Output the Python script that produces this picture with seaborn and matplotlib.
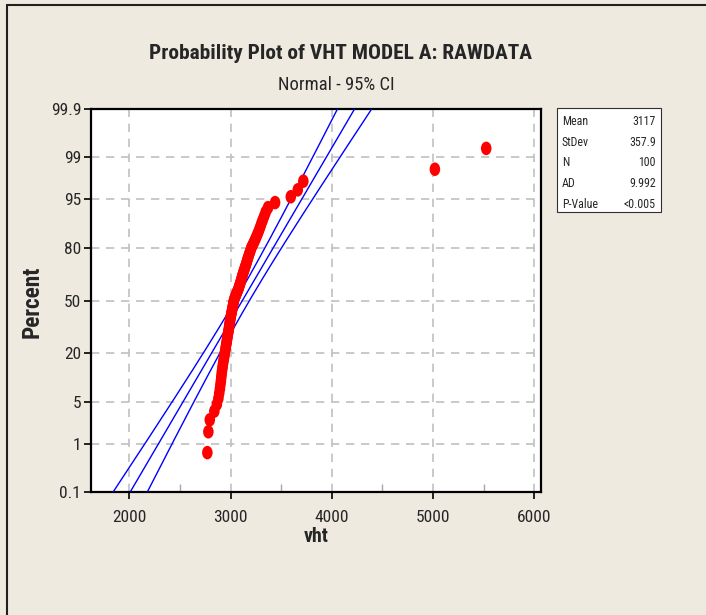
import numpy as np
import pandas as pd
import matplotlib
matplotlib.use("Agg")
import matplotlib.pyplot as plt
import seaborn as sns
from matplotlib import font_manager
from matplotlib.font_manager import FontProperties
from matplotlib.path import Path
from matplotlib.transforms import Affine2D
from matplotlib.patches import Rectangle
from matplotlib.lines import Line2D
from matplotlib.ticker import FixedLocator
from statistics import NormalDist

# ---------------- data ----------------
vht = [2771, 2781, 2795, 2840, 2865, 2880, 2888, 2895, 2900, 2905,
       2908, 2912, 2915, 2920, 2923, 2927, 2931, 2935, 2939, 2943,
       2946, 2950, 2953, 2957, 2960, 2963, 2966, 2969, 2972, 2975,
       2978, 2981, 2984, 2986, 2989, 2991, 2994, 2996, 2999, 3002,
       3005, 3008, 3011, 3014, 3017, 3020, 3023, 3026, 3029, 3032,
       3035, 3041, 3047, 3053, 3059, 3065, 3072, 3078, 3083, 3088,
       3093, 3098, 3102, 3107, 3112, 3116, 3121, 3126, 3132, 3138,
       3143, 3149, 3155, 3161, 3166, 3172, 3178, 3185, 3192, 3199,
       3206, 3217, 3228, 3239, 3250, 3261, 3272, 3283, 3294, 3305,
       3318, 3332, 3347, 3370, 3440, 3595, 3664, 3719, 5018, 5525]
pct_ticks = [0.1, 1, 5, 20, 50, 80, 95, 99, 99.9]
pct_labels = ["0.1", "1", "5", "20", "50", "80", "95", "99", "99.9"]
x_ticks = [2000, 3000, 4000, 5000, 6000]
x_minor = [2500, 3500, 4500, 5500]
stat_names = ["Mean", "StDev", "N", "AD", "P-Value"]
stat_values = ["3117", "357.9", "100", "9.992", "<0.005"]
fit_mean = 3117
fit_sd = 357.9
title = "Probability Plot of VHT MODEL A: RAWDATA"
subtitle = "Normal - 95% CI"

# ---------------- derived probability-plot coordinates ----------------
nd = NormalDist()
n = len(vht)
xs = sorted(vht)
plot_pct = [(i - 0.3) / (n + 0.4) for i in range(1, n + 1)]
zs = [nd.inv_cdf(p) for p in plot_pct]
df = pd.DataFrame({"vht": xs, "z": zs})

zmin, zmax = nd.inv_cdf(0.001), nd.inv_cdf(0.999)
zz = np.linspace(zmin, zmax, 300)
x_fit = fit_mean + fit_sd * zz
half = 1.96 * fit_sd * np.sqrt(1.0 / n + zz ** 2 / (2.0 * n))

# ---------------- fonts: prefer a narrow sans face ----------------
sns.set_style("white")
plt.rcParams["font.family"] = ["Liberation Sans", "DejaVu Sans"]


def _num(v, table, default):
    if isinstance(v, str):
        return table.get(v, default)
    return v


pref = ["Liberation Sans Narrow", "Arial Narrow", "Roboto Condensed",
        "Open Sans Condensed", "Noto Sans", "Open Sans", "Roboto",
        "DejaVu Sans"]
cond = []
for f in font_manager.fontManager.ttflist:
    st = _num(f.stretch, font_manager.stretch_dict, 500)
    wt = _num(f.weight, font_manager.weight_dict, 400)
    low = (f.name + " " + f.fname).lower()
    if f.style == "normal" and (st < 500 or "narrow" in low or "condensed" in low):
        cond.append((f, wt))


def pick(lo, hi, target):
    best = None
    for rank, fam in enumerate(pref + ["*"]):
        for f, wt in cond:
            if (fam == "*" or f.name == fam or f.name.startswith(fam)) and lo <= wt <= hi:
                key = (rank, abs(wt - target))
                if best is None or key < best[0]:
                    best = (key, f.fname)
        if best is not None:
            break
    return best[1] if best else None


reg_file = pick(300, 500, 400)
bold_file = pick(550, 800, 700)


def fp(bold=False, size=10):
    fn = bold_file if bold else reg_file
    if fn:
        return FontProperties(fname=fn, size=size)
    return FontProperties(family=["Liberation Sans", "DejaVu Sans"],
                          weight="bold" if bold else "normal", size=size)


# ---------------- figure ----------------
W, H = 706, 615
BG = "#EEEAE0"
fig = plt.figure(figsize=(W / 100, H / 100), dpi=100, facecolor=BG)
renderer = fig.canvas.get_renderer()


def fx(px):
    return px / W


def fy(py):
    return 1 - py / H


def fit_width(t, target, vertical=False):
    bb = t.get_window_extent(renderer=renderer)
    cur = bb.height if vertical else bb.width
    t.set_fontsize(t.get_fontsize() * target / cur)


ax = fig.add_axes([fx(91), fy(491.7), (541 - 91) / W, (491.7 - 109.3) / H])
ax.set_facecolor("white")

for xv in (x_fit - half, x_fit, x_fit + half):
    sns.lineplot(x=xv, y=zz, sort=False, estimator=None, color="#0000FF",
                 lw=1.0, ax=ax, zorder=3)

ellipse = Path.unit_circle().transformed(Affine2D().scale(0.78, 1.0))
sns.scatterplot(data=df, x="vht", y="z", marker=ellipse, s=95, color="#FF0000",
                edgecolor="none", linewidth=0, ax=ax, zorder=4)

ax.set_xlim(1622, 6066)
ax.set_ylim(zmin, zmax)
ax.set_xticks(x_ticks)
ax.set_xticklabels([str(t) for t in x_ticks])
ax.xaxis.set_minor_locator(FixedLocator(x_minor))
ax.set_yticks([nd.inv_cdf(p / 100) for p in pct_ticks])
ax.set_yticklabels(pct_labels)

ax.grid(True, which="major", ls=(0, (5, 4)), color="#C0C0C0", lw=1.2)
ax.tick_params(axis="both", which="major", direction="out", length=5, width=1.2,
               color="black", pad=2, bottom=True, left=True)
ax.tick_params(axis="x", which="major", pad=8)
ax.tick_params(axis="x", which="minor", direction="in", length=6, width=1,
               color="#A8A8A8", bottom=True)
for s in ax.spines.values():
    s.set_visible(True)
    s.set_color("black")
    s.set_linewidth(1.6)
ax.set_xlabel("")
ax.set_ylabel("")

# tick label fonts, sized so "2000" is ~34 px wide
tick_fp = fp(False, 12)
for lbl in ax.get_xticklabels() + ax.get_yticklabels():
    lbl.set_fontproperties(tick_fp)
probe = fig.text(0, 0, "2000", fontproperties=fp(False, 12))
bb = probe.get_window_extent(renderer=renderer)
tsize = 12 * 34.0 / bb.width
probe.remove()
for lbl in ax.get_xticklabels() + ax.get_yticklabels():
    lbl.set_fontsize(tsize)

# titles and axis labels
t_title = fig.text(fx(340.5), fy(59), title, ha="center", va="baseline",
                   fontproperties=fp(True, 15))
fit_width(t_title, 383)
t_sub = fig.text(fx(336.5), fy(90), subtitle, ha="center", va="baseline",
                 fontproperties=fp(False, 12))
fit_width(t_sub, 117)
t_x = fig.text(fx(316), fy(542), "vht", ha="center", va="baseline",
               fontproperties=fp(True, 13))
fit_width(t_x, 25)
t_y = fig.text(fx(32), fy(301.5), "Percent", ha="center", va="center",
               rotation=90, fontproperties=fp(True, 14))
fit_width(t_y, 73, vertical=True)

# stats box
bx0, by0, bx1, by1 = 557, 108, 661, 212
fig.add_artist(Rectangle((fx(bx0), fy(by1)), (bx1 - bx0) / W, (by1 - by0) / H,
                         transform=fig.transFigure, facecolor="white",
                         edgecolor="#303030", lw=0.8))
probe = fig.text(0, 0, "P-Value", fontproperties=fp(False, 9))
bb = probe.get_window_extent(renderer=renderer)
ssize = 9 * 36.0 / bb.width
probe.remove()
row_y = [121.7, 142.3, 162.8, 183.5, 204.0]
for name, val, ry in zip(stat_names, stat_values, row_y):
    fig.text(fx(562), fy(ry), name, ha="left", va="center",
             fontproperties=fp(False, ssize))
    fig.text(fx(656), fy(ry), val, ha="right", va="center",
             fontproperties=fp(False, ssize))

# outer frame (left and top edges)
fig.add_artist(Line2D([fx(7), fx(7)], [0, fy(5)], transform=fig.transFigure,
                      color="#202020", lw=1.5))
fig.add_artist(Line2D([fx(7), 1], [fy(5), fy(5)], transform=fig.transFigure,
                      color="#202020", lw=1.5))

fig.savefig("out.png", dpi=100, facecolor=BG)
